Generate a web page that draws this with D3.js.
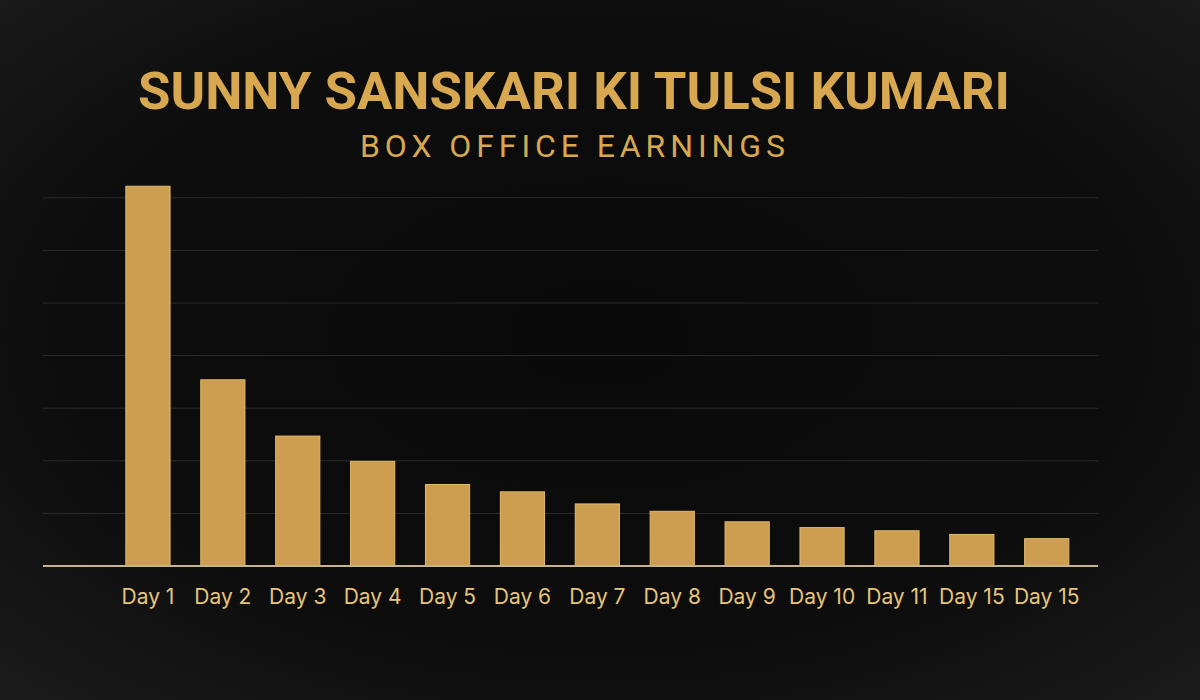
<!DOCTYPE html>
<html>
<head>
<meta charset="utf-8">
<script src="https://cdn.jsdelivr.net/npm/d3@7"></script>
<style>
  html, body { margin: 0; padding: 0; background: #0c0c0c; }
  svg { display: block; }
</style>
</head>
<body>
<svg id="chart"></svg>
<script>
// box office chart, gold on black
const DAYS = ["Day 1", "Day 2", "Day 3", "Day 4", "Day 5", "Day 6", "Day 7",
    "Day 8", "Day 9", "Day 10", "Day 11", "Day 15", "Day 15"];
const EARNINGS = [72.2, 35.4, 24.7, 19.9, 15.5, 14.1, 11.8, 10.4, 8.4, 7.3, 6.7, 6.0, 5.2];
const GRID_TICKS = [10, 20, 30, 40, 50, 60, 70];

const WIDTH = 1200;
const HEIGHT = 700;
const GOLD = "#cd9e50";

const svg = d3.select("#chart")
    .attr("width", WIDTH)
    .attr("height", HEIGHT);

// background vignette
const defs = svg.append("defs");
const bg = defs.append("radialGradient")
    .attr("id", "bg")
    .attr("cx", "50%").attr("cy", "48%").attr("r", "75%");
bg.append("stop").attr("offset", "0%").attr("stop-color", "#0a0a0a");
bg.append("stop").attr("offset", "60%").attr("stop-color", "#0d0d0d");
bg.append("stop").attr("offset", "100%").attr("stop-color", "#1d1d1d");

svg.append("rect")
    .attr("width", WIDTH)
    .attr("height", HEIGHT)
    .attr("fill", "url(#bg)");

// titles
svg.append("text")
    .attr("x", 138)
    .attr("y", 109)
    .attr("textLength", 872)
    .attr("lengthAdjust", "spacingAndGlyphs")
    .style("font-family", "Roboto, 'Liberation Sans', sans-serif")
    .style("font-weight", "700")
    .style("font-size", "52px")
    .attr("fill", "#d7a850")
    .text("SUNNY SANSKARI KI TULSI KUMARI");

svg.append("text")
    .attr("x", 360)
    .attr("y", 157)
    .attr("textLength", 425)
    .attr("lengthAdjust", "spacing")
    .style("font-family", "Roboto, 'Liberation Sans', sans-serif")
    .style("font-weight", "400")
    .style("font-size", "32px")
    .attr("fill", "#d7a850")
    .text("BOX OFFICE EARNINGS");

// scales
const x = d3.scaleBand()
    .domain(d3.range(DAYS.length))
    .range([110.5, 1084.2])
    .paddingInner(0.41)
    .paddingOuter(0.205);

const y = d3.scaleLinear()
    .domain([0, 70])
    .range([566, 197.8]);

// gridlines
svg.append("g")
    .selectAll("line")
    .data(GRID_TICKS)
    .enter()
    .append("line")
    .attr("x1", 43)
    .attr("x2", 1098)
    .attr("y1", d => y(d))
    .attr("y2", d => y(d))
    .attr("stroke", "#2b2b2b")
    .attr("stroke-width", 1);

// bars
svg.append("g")
    .selectAll("rect")
    .data(EARNINGS)
    .enter()
    .append("rect")
    .attr("x", (d, i) => x(i))
    .attr("y", d => y(d))
    .attr("width", x.bandwidth())
    .attr("height", d => y(0) - y(d))
    .attr("fill", GOLD)
    .attr("stroke", "#e3bb6a")
    .attr("stroke-width", 1);

// baseline
svg.append("line")
    .attr("x1", 43)
    .attr("x2", 1098)
    .attr("y1", y(0))
    .attr("y2", y(0))
    .attr("stroke", "#c9b38a")
    .attr("stroke-width", 2);

// category labels
const xAxis = d3.axisBottom(x)
    .tickSize(0)
    .tickPadding(0)
    .tickFormat(i => DAYS[i]);

const axisG = svg.append("g")
    .attr("transform", "translate(0," + y(0) + ")")
    .call(xAxis);

axisG.select(".domain").remove();
axisG.selectAll("text")
    .attr("dy", 0)
    .attr("y", 38)
    .style("font-family", "Inter, 'Open Sans', sans-serif")
    .style("font-size", "21px")
    .attr("fill", "#e6c47a");
</script>
</body>
</html>
